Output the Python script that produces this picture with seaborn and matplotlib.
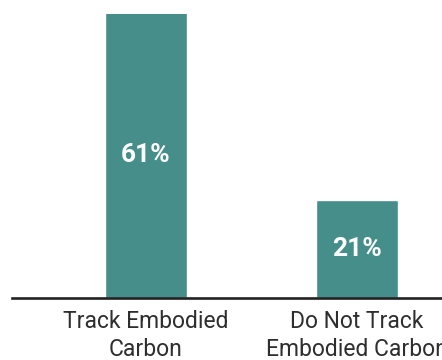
import matplotlib
matplotlib.use("Agg")
import matplotlib.pyplot as plt
import seaborn as sns
import pandas as pd

categories = ["Track Embodied\nCarbon", "Do Not Track\nEmbodied Carbon"]
values = [61, 21]
value_labels = ["61%", "21%"]

sns.set_theme(style="white")
plt.rcParams['font.family'] = ['Roboto', 'DejaVu Sans']

df = pd.DataFrame({'cat': categories, 'val': values})

fig = plt.figure(figsize=(4.42, 3.6), dpi=100)
ax = fig.add_axes([12 / 442, 62 / 360, 430 / 442, 284 / 360])

sns.barplot(data=df, x='cat', y='val', color='#468e89', saturation=1,
            width=0.39, ax=ax)

ax.set_xlim(-0.635, 1.403)
ax.set_ylim(0, 60.6)

for i, (v, lab) in enumerate(zip(values, value_labels)):
    ax.text(i, v / 2, lab, ha='center', va='center', color='white',
            fontsize=19, fontweight='bold')

sns.despine(ax=ax, left=True)
ax.spines['bottom'].set_color('#222222')
ax.spines['bottom'].set_linewidth(1.9)
ax.set_yticks([])
ax.set_xlabel('')
ax.set_ylabel('')
ax.tick_params(axis='x', length=0, pad=9, labelsize=16.5, labelcolor='#2e2e2e')
for t in ax.get_xticklabels():
    t.set_linespacing(1.27)

fig.savefig('out.png', dpi=100)
